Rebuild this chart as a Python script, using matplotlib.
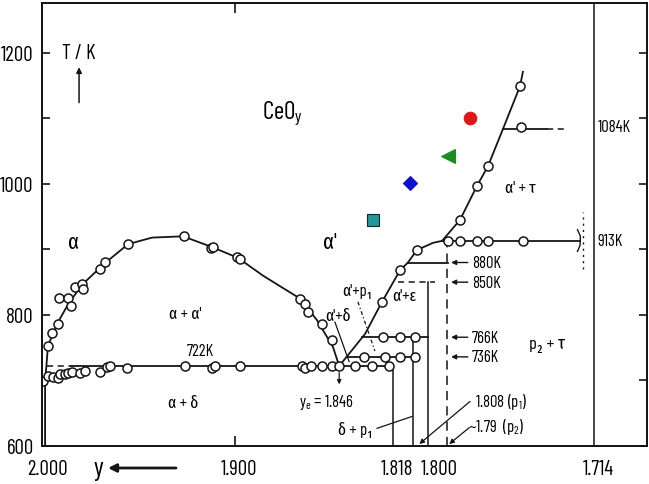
import matplotlib
matplotlib.use('Agg')
import matplotlib.pyplot as plt

FONTS = ['Barlow Condensed', 'Fira Sans Extra Condensed', 'Roboto Condensed', 'DejaVu Sans']
plt.rcParams['font.family'] = FONTS
plt.rcParams['mathtext.fontset'] = 'custom'
plt.rcParams['mathtext.rm'] = 'Barlow Condensed'
plt.rcParams['mathtext.it'] = 'Barlow Condensed'

# ---------------- data (y = O/Ce ratio, T in K) ----------------
# alpha / alpha+alpha' miscibility-gap boundary (incl. nearly vertical alpha/alpha+delta edge)
dome_y = [1.9984, 1.9984, 1.9980, 1.9969, 1.9917, 1.9865, 1.9793, 1.9674, 1.9554, 1.9430,
          1.9269, 1.9114, 1.8984, 1.8855, 1.8663, 1.8575, 1.8492, 1.846]
dome_T = [600, 700, 712, 753, 789, 816, 846, 879, 908, 918,
          920, 903, 887, 860, 825, 792, 751, 722]
dome_pts_y = [1.9969, 1.9948, 1.9917, 1.9912, 1.9865, 1.9850, 1.9829, 1.9793, 1.9788, 1.9699,
              1.9674, 1.9554, 1.9264, 1.9124, 1.9114, 1.8990, 1.8974, 1.8663, 1.8637, 1.8622,
              1.8549, 1.8497]
dome_pts_T = [753, 773, 786, 826, 826, 814, 843, 847, 840, 870,
              881, 909, 920, 902, 904, 888, 885, 825, 817, 805,
              786, 761]

# points along the 722 K eutectoid
eut_pts_y = [1.9995, 1.9969, 1.9943, 1.9917, 1.9907, 1.9881, 1.9865, 1.9845, 1.9803, 1.9777,
             1.9699, 1.9663, 1.9648, 1.9560, 1.9259, 1.9119, 1.9104, 1.8974, 1.8653, 1.8637,
             1.8606, 1.8549, 1.8497, 1.8460, 1.8378, 1.8290, 1.8202]
eut_pts_T = [699, 707, 705, 704, 710, 710, 711, 713, 711, 715,
             713, 721, 722, 719, 722, 719, 722, 722, 722, 719,
             722, 722, 722, 722, 722, 722, 722]

# alpha' / alpha'+tau boundary
rb_y = [1.846, 1.8326, 1.8238, 1.8145, 1.8104, 1.8057, 1.7974, 1.7927, 1.7834, 1.7746,
        1.7689, 1.7611, 1.7523, 1.7508]
rb_T = [722, 771, 820, 868, 880, 899, 910, 913, 945, 997,
        1027, 1084, 1149, 1171]
rb_pts_y = [1.8238, 1.8145, 1.8057, 1.7834, 1.7746, 1.7689, 1.7523]
rb_pts_T = [820, 868, 899, 945, 997, 1027, 1149]

# isotherm data points
pts913_y = [1.7896, 1.7834, 1.7746, 1.7689, 1.7508]
pts1084_y = [1.7518]
pts766_y = [1.8233, 1.8145, 1.8067]
pts736_y = [1.8332, 1.8223, 1.8145, 1.8067]

# isotherms: (T, y_start, y_end)
iso_solid = [(722, 1.985, 1.818), (736, 1.8422, 1.808), (766, 1.834, 1.800),
             (880, 1.8104, 1.7896), (913, 1.7927, 1.7212), (1084, 1.7611, 1.7383)]
iso_dashed = [(722, 1.9975, 1.985), (850, 1.8155, 1.7964), (1084, 1.7383, 1.7275)]
# verticals (y, T_bottom, T_top)
vert_solid = [(1.818, 600, 722), (1.808, 600, 766), (1.800, 600, 850), (1.714, 600, 1280)]
vert_dashed = [(1.790, 600, 913)]

iso_labels = ['880K', '850K', '766K', '736K']
iso_label_T = [880, 850, 766, 736]

# overlaid coloured measurements
mk_y = [1.8285, 1.8093, 1.7896, 1.7782]
mk_T = [945, 1001, 1043, 1100]
mk_style = ['s', 'D', '<', 'o']
mk_color = ['#1f9a98', '#1010d0', '#1e8c1e', '#e01515']
mk_size = [8.5, 7, 10, 9]

xtick_vals = [2.000, 1.900, 1.818, 1.800, 1.714]
xtick_text = ['2.000', '1.900', '1.818', '1.800', '1.714']
ytick_vals = [600, 800, 1000, 1200]

# ---------------- figure ----------------
fig = plt.figure(figsize=(6.49, 4.85), dpi=100)
ax = fig.add_axes([42 / 649, 38 / 485, 605 / 649, 443 / 485])
ax.set_xlim(2.000, 1.6865)
ax.set_ylim(600, 1276)
for s in ax.spines.values():
    s.set_linewidth(1.4)
    s.set_color('#111111')

lc = '#151515'
lw = 1.3
ax.plot(dome_y, dome_T, color=lc, lw=lw)
ax.plot(rb_y, rb_T, color=lc, lw=lw)
for T, a, b in iso_solid:
    ax.plot([a, b], [T, T], color=lc, lw=lw)
for T, a, b in iso_dashed:
    ax.plot([a, b], [T, T], color=lc, lw=1.1, ls=(0, (4, 3)))
for y, t0, t1 in vert_solid:
    ax.plot([y, y], [t0, t1], color=lc, lw=1.1)
for y, t0, t1 in vert_dashed:
    ax.plot([y, y], [t0, t1], color=lc, lw=1.1, ls=(0, (6, 4)))

# dotted bracket near 913 K
ax.plot([1.7195, 1.7195], [870, 957], color=lc, lw=1.0, ls=(0, (1.5, 3)))
ax.plot([1.7225, 1.7210, 1.7212, 1.7225], [930, 920, 906, 897], color=lc, lw=1.0)

circ = dict(ls='none', marker='o', ms=6.5, mfc='white', mec=lc, mew=1.1)
ax.plot(dome_pts_y, dome_pts_T, **circ)
ax.plot(eut_pts_y, eut_pts_T, **circ)
ax.plot(rb_pts_y, rb_pts_T, **circ)
ax.plot(pts913_y, [913] * len(pts913_y), **circ)
ax.plot(pts1084_y, [1087] * len(pts1084_y), **circ)
ax.plot(pts766_y, [766] * len(pts766_y), **circ)
ax.plot(pts736_y, [736] * len(pts736_y), **circ)

for y, T, m, c, s in zip(mk_y, mk_T, mk_style, mk_color, mk_size):
    ax.plot([y], [T], ls='none', marker=m, ms=s, mfc=c, mec='#0a2a2a' if m == 's' else c, mew=0.8)

# isotherm labels with arrows
for lab, T in zip(iso_labels, iso_label_T):
    ax.annotate(lab, xy=(1.7880, T), xytext=(1.7772, T), fontsize=12, va='center', ha='left',
                arrowprops=dict(arrowstyle='-|>', lw=1.0, color=lc, mutation_scale=7, shrinkA=1, shrinkB=0))
ax.text(1.7122, 1088, '1084K', fontsize=12, va='center', ha='left')
ax.text(1.7122, 913, '913K', fontsize=12, va='center', ha='left')

# region labels (Greek labels use Unicode subscripts so font fallback applies)
ax.text(1.8756, 1109, 'CeO$_\\mathrm{y}$', fontsize=18, ha='center', va='center')
ax.text(1.9839, 911, 'α', fontsize=16, ha='center', va='center')
ax.text(1.8508, 910, "α'", fontsize=16, ha='center', va='center')
ax.text(1.9259, 802, "α + α'", fontsize=12, ha='center', va='center')
ax.text(1.9269, 667, 'α + δ', fontsize=12, ha='center', va='center')
ax.text(1.9181, 745, '722K', fontsize=12, ha='center', va='center')
ax.text(1.8466, 799, "α'+δ", fontsize=12, ha='center', va='center')
ax.text(1.8368, 838, "α'+p₁", fontsize=12, ha='center', va='center')
ax.text(1.8124, 829, "α'+ε", fontsize=12, ha='center', va='center')
ax.text(1.7523, 994, "α' + τ", fontsize=12, ha='center', va='center')
ax.text(1.7383, 755, 'p₂ + τ', fontsize=13, ha='center', va='center')
ax.text(1.8523, 668, 'y$_\\mathrm{e}$ = 1.846', fontsize=12, ha='center', va='center')
ax.text(1.8378, 626, 'δ + p₁', fontsize=12, ha='center', va='center')
ax.text(1.7756, 668, '1.808 (p$_\\mathrm{1}$)', fontsize=12, ha='left', va='center')
ax.text(1.7793, 630, '~1.79  (p$_\\mathrm{2}$)', fontsize=12, ha='left', va='center')

# pointer lines
ax.plot([1.8482, 1.8409], [789, 729], color=lc, lw=0.9)
ax.plot([1.8363, 1.8275], [820, 745], color=lc, lw=0.9, ls=(0, (3, 2, 1, 2)))
ax.plot([1.8264, 1.8083], [627, 645], color=lc, lw=0.9)
ax.annotate('', xy=(1.8045, 603), xytext=(1.7782, 668),
            arrowprops=dict(arrowstyle='-|>', lw=0.9, color=lc, mutation_scale=7, shrinkA=0, shrinkB=0))
ax.annotate('', xy=(1.7890, 603), xytext=(1.7786, 628),
            arrowprops=dict(arrowstyle='-|>', lw=0.9, color=lc, mutation_scale=7, shrinkA=0, shrinkB=0))
ax.annotate('', xy=(1.846, 694), xytext=(1.846, 712),
            arrowprops=dict(arrowstyle='-|>', lw=0.9, color=lc, mutation_scale=6, shrinkA=0, shrinkB=0))

# T/K label with arrow
ax.text(1.9808, 1200, 'T / K', fontsize=15, ha='center', va='center')
ax.annotate('', xy=(1.9808, 1178), xytext=(1.9808, 1124),
            arrowprops=dict(arrowstyle='-|>', lw=1.1, color=lc, mutation_scale=8, shrinkA=0, shrinkB=0))

# axis ticks
ax.set_yticks(ytick_vals)
ax.set_yticks([700, 900, 1100], minor=True)
ax.tick_params(axis='y', which='both', direction='in', length=6, width=1.1, right=True,
               labelsize=15, pad=6)
ax.set_xticks([1.900])
ax.set_xticklabels([])
ax.tick_params(axis='x', direction='in', length=7, width=1.1, top=True)

label_shift = [4, 3, 3, 8, 3]
for v, t, d in zip(xtick_vals, xtick_text, label_shift):
    ax.annotate(t, xy=(v, 0), xycoords=('data', 'axes fraction'), xytext=(d, -16),
                textcoords='offset points', ha='center', va='center', fontsize=15,
                annotation_clip=False)

# "y <-" axis annotation
fig.text(98 / 649, 16 / 485, 'y', fontsize=19, ha='center', va='center')
ax.annotate('', xy=(108, 16), xytext=(176, 16), xycoords='figure pixels',
            arrowprops=dict(arrowstyle='-|>', lw=2.0, color=lc, mutation_scale=12, shrinkA=0, shrinkB=0),
            annotation_clip=False)

fig.savefig('out.png', dpi=100, facecolor='white')
